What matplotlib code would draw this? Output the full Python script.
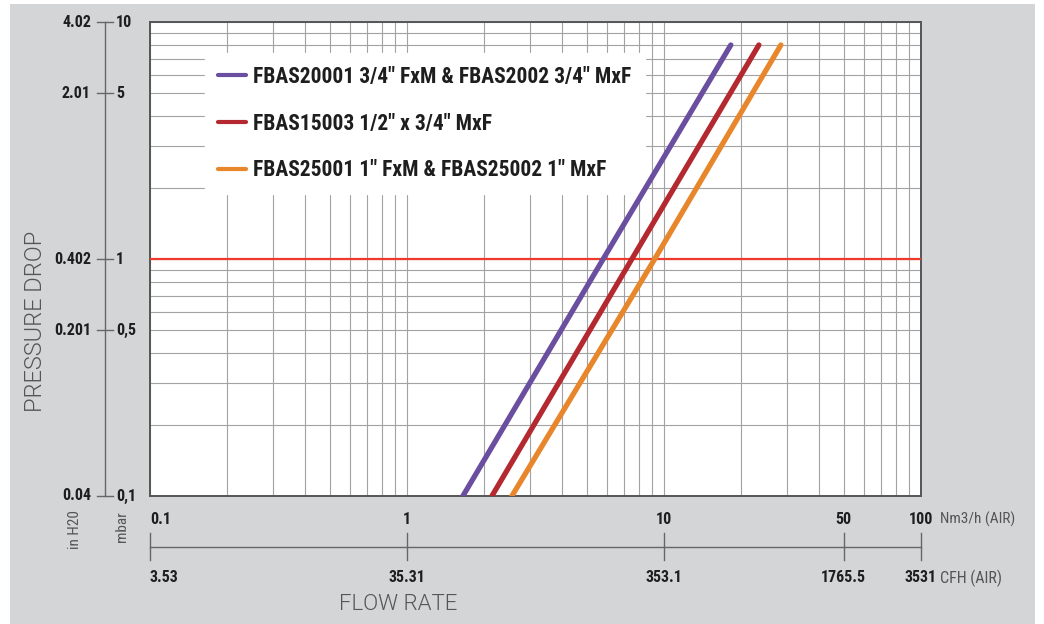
import matplotlib
matplotlib.use("Agg")
import matplotlib.pyplot as plt
from matplotlib.patches import Rectangle
from matplotlib.lines import Line2D
from matplotlib import transforms

# ---------------- data ----------------
series_labels = [
    'FBAS20001 3/4" FxM & FBAS2002 3/4" MxF',
    'FBAS15003 1/2" x 3/4" MxF',
    'FBAS25001 1" FxM & FBAS25002 1" MxF',
]
series_colors = ["#6a4ea0", "#b3292f", "#e8862c"]
purple_flow = [1.65, 5.8, 18.2]
purple_dp = [0.1, 1.0, 8.0]
red_flow = [2.14, 7.5, 23.4]
red_dp = [0.1, 1.0, 8.0]
orange_flow = [2.56, 9.2, 28.5]
orange_dp = [0.1, 1.0, 8.0]
limit_dp = 1.0

flow_ticks = [0.1, 1, 10, 50, 100]
flow_labels_nm3 = ["0.1", "1", "10", "50", "100"]
flow_labels_cfh = ["3.53", "35.31", "353.1", "1765.5", "3531"]
dp_ticks = [0.1, 0.5, 1, 5, 10]
dp_labels_mbar = ["0,1", "0,5", "1", "5", "10"]
dp_labels_inh2o = ["0.04", "0.201", "0.402", "2.01", "4.02"]

# ---------------- figure ----------------
W, H = 1044, 624
fig = plt.figure(figsize=(W / 100, H / 100), dpi=100)
fig.patch.set_facecolor("white")
fig.patches.append(Rectangle((10 / W, 0), 1025 / W, 620 / H, transform=fig.transFigure,
                             facecolor="#d4d5d7", edgecolor="none", zorder=-10))

COND = ["Roboto Condensed", "DejaVu Sans"]
LIGHT = ["Roboto", "DejaVu Sans"]
TXT = "#1e1e1e"
GREY = "#555555"

L, R, T, B = 150, 921, 22, 496
ax = fig.add_axes([L / W, (H - B) / H, (R - L) / W, (B - T) / H])
ax.set_facecolor("white")
ax.set_xscale("log")
ax.set_yscale("log")
ax.set_xlim(0.1, 100)
ax.set_ylim(0.1, 10)
ax.grid(True, which="both", color="#a2a2a2", linewidth=0.8)
ax.tick_params(which="both", length=0, labelbottom=False, labelleft=False)
for s in ax.spines.values():
    s.set_color("#555555")
    s.set_linewidth(1.4)

ax.axhline(limit_dp, color="#ee3a2a", linewidth=1.6, zorder=3)
handles = []
for fl, dp, c, lab in zip([purple_flow, red_flow, orange_flow],
                          [purple_dp, red_dp, orange_dp], series_colors, series_labels):
    h, = ax.plot(fl, dp, color=c, linewidth=3.8, solid_capstyle="round", label=lab, zorder=4)
    handles.append(h)

leg = ax.legend(handles=handles, loc="upper left", bbox_to_anchor=((205 - L) / (R - L), 1 - (53 - T) / (B - T)),
                frameon=True, fancybox=False, framealpha=1, edgecolor="white", facecolor="white",
                prop={"family": COND, "weight": "bold", "size": 15.5}, handlelength=1.3,
                handletextpad=0.35, labelspacing=1.15, borderpad=0.6, borderaxespad=0)
leg.set_zorder(3.5)
for t in leg.get_texts():
    t.set_color(TXT)
for lh in leg.legend_handles:
    lh.set_linewidth(3)

# ---------------- left scale ----------------
to_fig_x = lambda px: px / W
bl = transforms.blended_transform_factory(fig.transFigure, ax.transData)
xl = 105
fig.add_artist(Line2D([to_fig_x(xl)] * 2, [0.1, 10], transform=bl, color="#666666", linewidth=1.0))
for v, lm, li in zip(dp_ticks, dp_labels_mbar, dp_labels_inh2o):
    fig.add_artist(Line2D([to_fig_x(97), to_fig_x(113)], [v, v], transform=bl, color="#666666", linewidth=1.0))
    fig.text(to_fig_x(116), v, lm, transform=bl, ha="left", va="center", family=COND,
             weight="bold", size=11.5, color=TXT)
    fig.text(to_fig_x(91), v, li, transform=bl, ha="right", va="center", family=COND,
             weight="bold", size=11.5, color=TXT)
fig.text(to_fig_x(75), 1 - 530 / H, "in H20", rotation=90, ha="center", va="center",
         family=COND, size=11, color=GREY)
fig.text(to_fig_x(122), 1 - 527 / H, "mbar", rotation=90, ha="center", va="center",
         family=COND, size=11, color=GREY)
fig.text(to_fig_x(35), 1 - 321 / H, "PRESSURE DROP", rotation=90, ha="center", va="center",
         family=LIGHT, weight=300, size=17, color=GREY)

# ---------------- bottom scales ----------------
bb = transforms.blended_transform_factory(ax.transData, fig.transFigure)
yline = 1 - 547 / H
fig.add_artist(Line2D([0.1, 100], [yline, yline], transform=bb, color="#666666", linewidth=1.0))
for i, (v, ln, lc) in enumerate(zip(flow_ticks, flow_labels_nm3, flow_labels_cfh)):
    fig.add_artist(Line2D([v, v], [1 - 533 / H, 1 - 560 / H], transform=bb, color="#666666", linewidth=1.0))
    ha = "left" if i == 0 else "center"
    fig.text(v, 1 - 519 / H, ln, transform=bb, ha=ha, va="center", family=COND,
             weight="bold", size=11.5, color=TXT)
    fig.text(v, 1 - 578 / H, lc, transform=bb, ha=ha, va="center", family=COND,
             weight="bold", size=11.5, color=TXT)
fig.text(940 / W, 1 - 519 / H, "Nm3/h (AIR)", ha="left", va="center", family=COND,
         size=11, color=GREY)
fig.text(940 / W, 1 - 578 / H, "CFH (AIR)", ha="left", va="center", family=COND,
         size=11.5, color=GREY)
fig.text(398 / W, 1 - 605 / H, "FLOW RATE", ha="center", va="center", family=LIGHT,
         weight=300, size=16, color=GREY)

fig.savefig("out.png", dpi=100, facecolor=fig.get_facecolor())
